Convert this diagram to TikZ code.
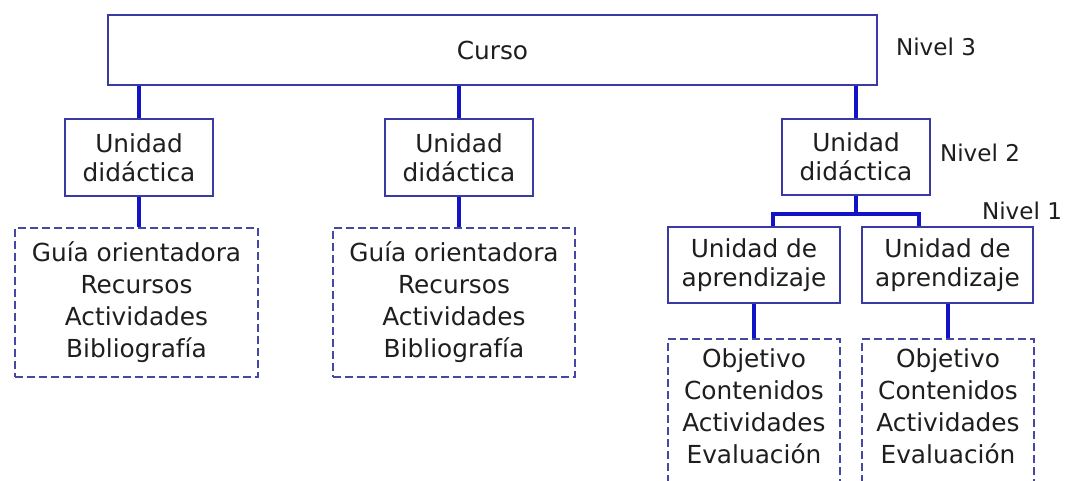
\documentclass[tikz,border=0pt]{standalone}
\usepackage{fontspec}
\setmainfont{DejaVu Sans}
\definecolor{boxc}{RGB}{58,58,165}
\definecolor{dashc}{RGB}{70,70,165}
\definecolor{connc}{RGB}{18,18,200}
\definecolor{txt}{RGB}{30,30,30}
\begin{document}
\begin{tikzpicture}[x=0.75pt,y=-0.75pt,
  box/.style={draw=boxc,line width=1.5pt,fill=white,inner sep=0pt,align=center,text=txt,
    font=\fontsize{18.6pt}{21.75pt}\selectfont},
  dbox/.style={draw=dashc,line width=1.5pt,dash pattern=on 6pt off 3pt,inner sep=0pt,
    align=center,text=txt,font=\fontsize{18.6pt}{24pt}\selectfont},
  listtext/.style={align=center,text=txt,inner sep=0pt,font=\fontsize{18.6pt}{24pt}\selectfont},
  conn/.style={draw=connc,line width=3pt},
  lvl/.style={text=txt,inner sep=0pt,font=\fontsize{17.3pt}{21pt}\selectfont}]
\useasboundingbox (0,0) rectangle (1065,481);
\fill[white] (0,0) rectangle (1065,481);

% level 3
\node[box,minimum width=576.75pt,minimum height=52.5pt] (curso) at (492.5,50) {Curso};
\node[lvl] (n3) at (936,47) {Nivel 3};

% level 2
\node[box,minimum width=111pt,minimum height=57.75pt] (ud1) at (139,157.5) {Unidad\\didáctica};
\node[box,minimum width=111pt,minimum height=57.75pt] (ud2) at (459,157.5) {Unidad\\didáctica};
\node[box,minimum width=111pt,minimum height=57pt] (ud3) at (856,157) {Unidad\\didáctica};
\node[lvl] (n2) at (980,153) {Nivel 2};

% level 1
\node[box,minimum width=129pt,minimum height=57pt] (ua1) at (754,265) {Unidad de\\aprendizaje};
\node[box,minimum width=128.25pt,minimum height=57pt] (ua2) at (947.5,265) {Unidad de\\aprendizaje};
\node[lvl] (n1) at (1022,211) {Nivel 1};

% dashed content boxes
\node[dbox,minimum width=182.25pt,minimum height=111.75pt] (d1) at (136.5,302.5)
  {Guía orientadora\\Recursos\\Actividades\\Bibliografía};
\node[dbox,minimum width=181.5pt,minimum height=111.75pt] (d2) at (454,302.5)
  {Guía orientadora\\Recursos\\Actividades\\Bibliografía};
\begin{scope}
  \clip (0,0) rectangle (1065,481);
  \node[dbox,minimum width=129pt,minimum height=144pt,anchor=north] (d3) at (754,338) {};
  \node[dbox,minimum width=129pt,minimum height=144pt,anchor=north] (d4) at (948,338) {};
\end{scope}
\node[listtext] (t3) at (754,406) {Objetivo\\Contenidos\\Actividades\\Evaluación};
\node[listtext] (t4) at (948,406) {Objetivo\\Contenidos\\Actividades\\Evaluación};

% connectors
\draw[conn] (curso.south -| ud1.north) -- (ud1.north);
\draw[conn] (curso.south -| ud2.north) -- (ud2.north);
\draw[conn] (curso.south -| ud3.north) -- (ud3.north);
\draw[conn] (ud1.south) -- (d1.north -| ud1.south);
\draw[conn] (ud2.south) -- (d2.north -| ud2.south);
\coordinate (b1) at (773,214);
\coordinate (b2) at (919,214);
\draw[conn] (ud3.south) -- (ud3.south |- b1);
\draw[conn] (b1 |- ua1.north) -- (b1) -- (b2) -- (b2 |- ua2.north);
\draw[conn] (ua1.south) -- (d3.north -| ua1.south);
\draw[conn] (ua2.south) -- (d4.north -| ua2.south);
\end{tikzpicture}
\end{document}
